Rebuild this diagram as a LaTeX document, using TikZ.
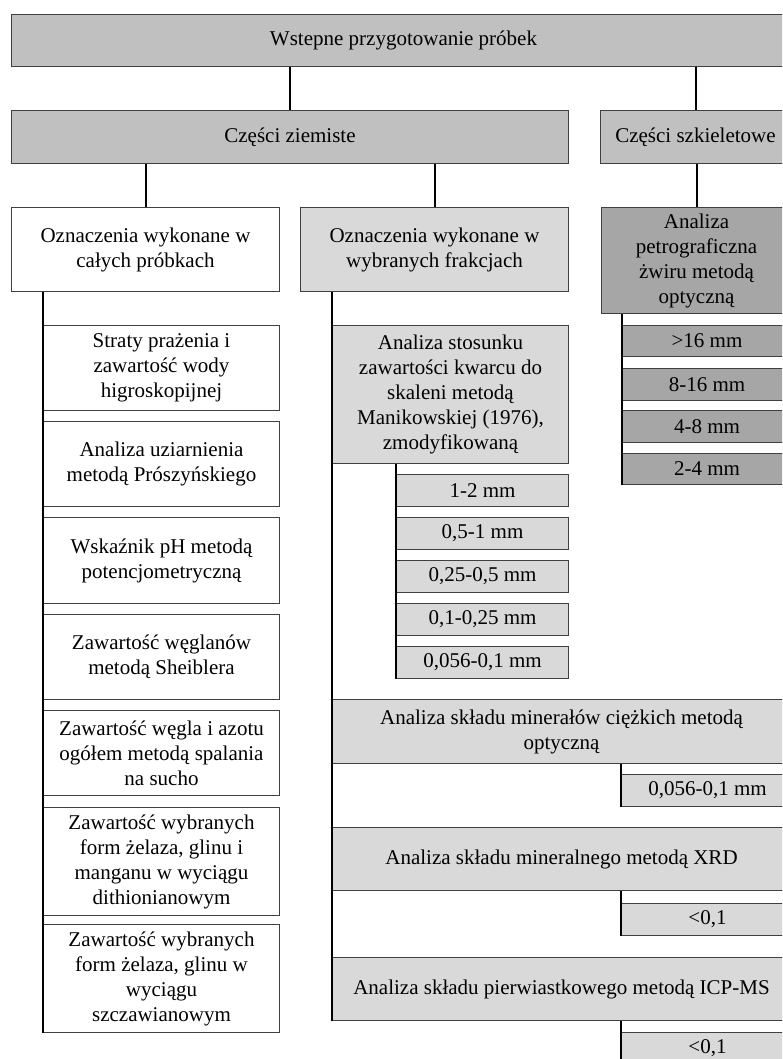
\documentclass[tikz,border=0pt]{standalone}
\usepackage{fontspec}
\setmainfont{Liberation Serif}
\usetikzlibrary{positioning}

\newcommand{\diagfont}{\fontsize{21}{25}\selectfont}

\tikzset{
  stage/.style={draw=black!75, line width=1pt, inner sep=0pt, align=center,
    anchor=north west, font=\diagfont},
  mainfill/.style={stage, fill=groundgray},
  whitefill/.style={stage, fill=white},
  lightfill/.style={stage, fill=fractgray},
  darkfill/.style={stage, fill=gravelgray},
  link/.style={line width=2pt, black}
}

\begin{document}
\begin{tikzpicture}[x=1pt, y=-1pt]

\definecolor{groundgray}{RGB}{192, 192, 192}
\definecolor{fractgray}{RGB}{217, 217, 217}
\definecolor{gravelgray}{RGB}{166, 166, 166}

\useasboundingbox (0, 0) rectangle (782, 1059);
\clip (0, 0) rectangle (782, 1059);

% top levels
\node[mainfill, minimum width=784, minimum height=52] (prep) at (11, 14) {Wstepne przygotowanie próbek};
\node[mainfill, minimum width=557, minimum height=53] (ziem) at (11, 110) {Części ziemiste};
\node[mainfill, minimum width=190, minimum height=53] (szkiel) at (600, 110) {Części szkieletowe};

% whole samples
\node[whitefill, minimum width=268, minimum height=84] (calych) at (11, 207) {Oznaczenia wykonane w\\całych próbkach};
\node[whitefill, minimum width=236, minimum height=85] (straty) at (43, 325) {Straty prażenia i\\zawartość wody\\higroskopijnej};
\node[whitefill, minimum width=236, minimum height=85] (uziarn) at (43, 421) {Analiza uziarnienia\\metodą Prószyńskiego};
\node[whitefill, minimum width=236, minimum height=86] (ph) at (43, 517) {Wskaźnik pH metodą\\potencjometryczną};
\node[whitefill, minimum width=236, minimum height=85] (weglany) at (43, 614) {Zawartość węglanów\\metodą Sheiblera};
\node[whitefill, minimum width=236, minimum height=85] (cn) at (43, 710) {Zawartość węgla i azotu\\ogółem metodą spalania\\na sucho};
\node[whitefill, minimum width=236, minimum height=108] (dithion) at (43, 807) {Zawartość wybranych\\form żelaza, glinu i\\manganu w wyciągu\\dithionianowym};
\node[whitefill, minimum width=236, minimum height=108] (szczaw) at (43, 924) {Zawartość wybranych\\form żelaza, glinu w\\wyciągu\\szczawianowym};

% selected fractions
\node[lightfill, minimum width=268, minimum height=84] (wybr) at (300, 207) {Oznaczenia wykonane w\\wybranych frakcjach};
\node[lightfill, minimum width=236, minimum height=138] (kwarc) at (332, 325) {Analiza stosunku\\zawartości kwarcu do\\skaleni metodą\\Manikowskiej (1976),\\zmodyfikowaną};
\node[lightfill, minimum width=172, minimum height=32] (kf1) at (396, 474) {1-2 mm};
\node[lightfill, minimum width=172, minimum height=32] (kf2) at (396, 517) {0,5-1 mm};
\node[lightfill, minimum width=172, minimum height=32] (kf3) at (396, 560) {0,25-0,5 mm};
\node[lightfill, minimum width=172, minimum height=32] (kf4) at (396, 603) {0,1-0,25 mm};
\node[lightfill, minimum width=172, minimum height=32] (kf5) at (396, 646) {0,056-0,1 mm};

\node[lightfill, minimum width=458, minimum height=64] (ciezkie) at (332, 699) {Analiza składu minerałów ciężkich metodą\\optyczną};
\node[lightfill, minimum width=172, minimum height=32] (ciezf) at (621, 774) {0,056-0,1 mm};
\node[lightfill, minimum width=458, minimum height=63] (xrd) at (332, 827) {Analiza składu mineralnego metodą XRD};
\node[lightfill, minimum width=172, minimum height=32] (xrdf) at (621, 903) {<0,1};
\node[lightfill, minimum width=458, minimum height=63] (icp) at (332, 957) {Analiza składu pierwiastkowego metodą ICP-MS};
\node[lightfill, minimum width=172, minimum height=32] (icpf) at (621, 1032) {<0,1};

% gravel
\node[darkfill, minimum width=190, minimum height=106] (petro) at (601, 207) {Analiza\\petrograficzna\\żwiru metodą\\optyczną};
\node[darkfill, minimum width=169, minimum height=31] (pf1) at (622, 325) {>16 mm};
\node[darkfill, minimum width=169, minimum height=32] (pf2) at (622, 368) {8-16 mm};
\node[darkfill, minimum width=169, minimum height=32] (pf3) at (622, 410) {4-8 mm};
\node[darkfill, minimum width=169, minimum height=31] (pf4) at (622, 453) {2-4 mm};

% links
\draw[link] (prep.south -| ziem.north) -- (ziem.north);
\draw[link] (prep.south -| szkiel.north) -- (szkiel.north);
\draw[link] (ziem.south -| calych.north) -- (calych.north);
\draw[link] (ziem.south -| wybr.north) -- (wybr.north);
\draw[link] (szkiel.south -| petro.north) -- (petro.north);

\draw[link] (calych.south -| straty.west) -- (szczaw.south west);
\draw[link] (wybr.south -| kwarc.west) -- (icp.south west);
\draw[link] (kwarc.south -| kf1.west) -- (kf5.south west);
\draw[link] (petro.south -| pf1.west) -- (pf4.south west);
\draw[link] (ciezkie.south -| ciezf.west) -- (ciezf.south west);
\draw[link] (xrd.south -| xrdf.west) -- (xrdf.south west);
\draw[link] (icp.south -| icpf.west) -- (icpf.south west);

\end{tikzpicture}
\end{document}
